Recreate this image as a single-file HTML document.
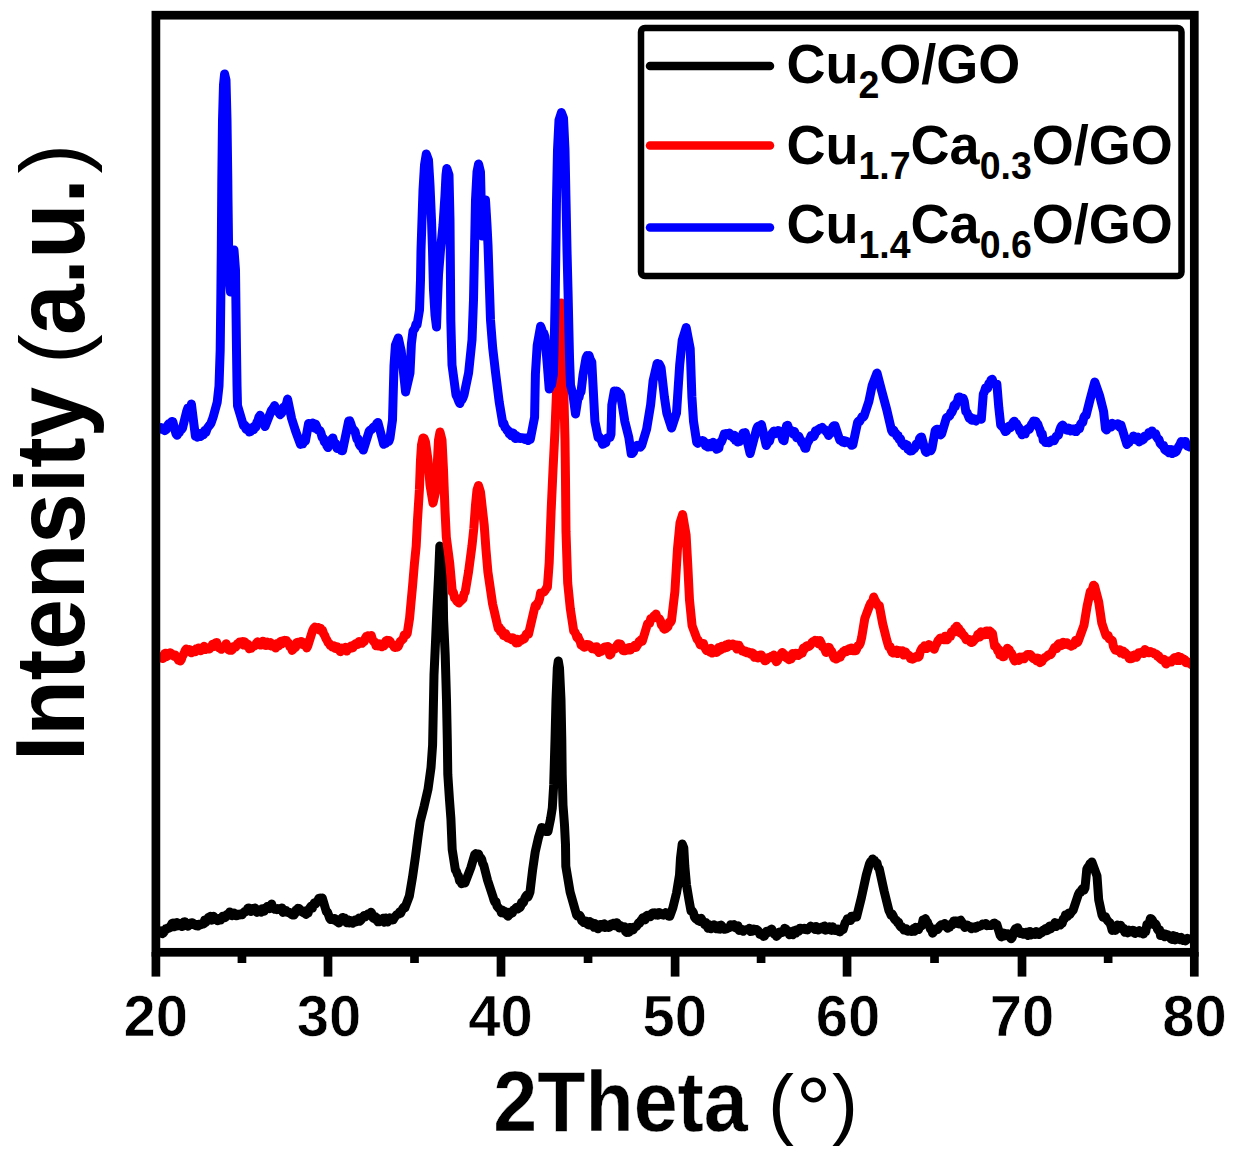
<!DOCTYPE html>
<html><head><meta charset="utf-8"><style>
html,body{margin:0;padding:0;background:#fff;}
body{width:1237px;height:1166px;overflow:hidden;}
svg{display:block;}
text{font-family:"Liberation Sans",sans-serif;font-weight:bold;fill:#000;}
</style></head><body>
<svg width="1237" height="1166" viewBox="0 0 1237 1166">
<rect width="1237" height="1166" fill="#fff"/>
<g fill="none" stroke-width="9" stroke-linejoin="round" stroke-linecap="round">
<polyline stroke="#000" points="160.0,933.0 161.2,930.7 162.3,933.7 163.5,932.8 164.7,931.0 165.8,928.9 166.8,929.1 167.8,928.0 168.9,928.1 169.9,927.8 171.0,925.5 172.0,923.5 173.0,923.0 174.0,926.8 175.0,924.8 176.0,926.3 177.0,922.5 178.0,924.5 179.0,924.7 180.0,925.7 181.0,923.2 182.0,926.5 183.0,926.2 184.0,921.9 185.0,921.8 186.0,924.2 187.0,923.9 188.1,926.2 189.2,923.7 190.2,923.2 191.3,924.4 192.4,922.7 193.5,923.8 194.6,925.1 195.6,925.6 196.7,924.5 197.8,926.0 198.9,924.3 200.1,923.9 201.2,924.6 202.4,923.4 203.5,924.0 204.7,920.1 205.9,922.3 207.2,919.3 208.4,917.4 209.4,918.2 210.5,916.2 211.5,920.2 212.5,919.7 213.5,916.3 214.6,917.5 215.6,919.5 216.6,919.6 217.6,920.8 218.7,918.5 219.7,919.0 220.7,920.0 221.7,918.6 222.7,916.2 223.8,916.9 224.8,917.7 225.8,916.9 226.8,914.7 227.8,914.0 228.8,914.5 229.8,911.9 230.9,913.0 231.9,915.8 232.9,914.0 233.9,913.0 234.9,914.9 235.9,915.7 237.0,915.7 238.0,914.3 239.0,915.0 240.1,914.2 241.2,913.9 242.2,914.7 243.3,912.9 244.4,911.7 245.5,911.7 246.6,911.1 247.7,908.4 248.8,907.9 249.8,910.5 250.9,911.4 252.0,908.5 253.0,909.3 254.0,908.6 255.0,907.9 256.0,909.8 257.0,912.4 258.0,911.7 259.0,910.9 260.0,911.0 261.1,912.2 262.1,908.7 263.2,909.6 264.2,911.2 265.3,908.9 266.4,907.8 267.4,906.4 268.5,907.2 269.5,908.7 270.6,906.0 271.7,904.0 272.7,908.1 273.8,908.6 274.8,909.3 275.9,908.9 276.9,909.6 278.0,908.5 279.0,909.0 280.0,909.6 281.0,909.4 282.0,908.0 283.0,912.4 284.0,911.0 285.0,911.7 286.0,910.4 287.0,912.2 288.0,912.5 289.0,912.3 290.0,912.7 291.0,914.0 292.0,914.8 293.0,915.1 294.0,915.0 295.0,913.5 296.0,910.1 297.0,909.8 298.0,908.3 299.0,908.5 300.0,909.5 301.0,911.5 302.0,911.8 303.0,912.4 304.0,913.1 305.0,911.0 306.0,914.4 307.0,913.4 308.1,913.0 309.2,908.9 310.2,907.3 311.3,906.0 312.4,908.3 313.5,904.6 314.5,902.7 315.6,903.9 316.7,902.0 317.8,900.5 318.9,898.3 320.1,898.0 321.2,898.9 322.3,898.0 326.4,911.7 327.5,912.2 328.5,914.8 329.6,918.0 330.6,919.6 331.7,918.9 332.7,918.8 333.8,920.1 334.8,918.5 335.9,920.8 336.9,921.5 338.0,920.9 339.0,923.0 340.2,919.3 341.3,921.2 342.5,917.4 343.6,918.4 344.7,917.9 345.8,920.7 346.8,922.7 347.9,919.8 349.0,923.0 350.2,920.4 351.4,920.8 352.7,923.3 353.9,922.0 354.9,919.9 355.9,922.0 357.0,921.3 358.0,920.2 359.0,918.1 360.0,921.2 361.1,919.9 362.1,918.0 363.1,917.4 364.1,915.5 365.1,917.0 366.1,915.2 367.1,915.5 368.1,913.8 369.1,914.7 370.1,913.5 371.1,912.2 372.1,914.1 373.1,918.1 374.1,918.4 375.1,916.5 376.1,919.9 377.1,918.0 378.1,921.8 379.1,921.7 380.1,921.3 381.2,920.7 382.3,919.7 383.3,918.3 384.4,922.2 385.5,917.9 386.6,921.5 387.7,921.9 388.7,919.8 389.8,917.7 390.9,919.0 392.0,920.1 393.1,919.9 394.2,918.0 395.3,916.4 396.4,915.1 397.5,914.2 398.6,914.3 399.6,911.9 400.7,913.1 401.7,910.9 402.7,908.7 403.8,907.2 404.8,908.1 409.4,895.8 412.5,877.3 415.6,855.7 418.0,837.2 420.2,821.7 424.1,806.3 428.0,789.3 431.0,767.7 432.6,745.0 434.0,675.0 435.6,640.0 436.8,612.0 438.6,575.0 439.8,546.0 440.9,548.3 442.0,549.0 443.0,580.0 443.6,620.0 445.2,655.0 446.5,700.0 447.3,740.0 447.8,774.5 449.5,800.0 450.9,818.6 452.2,849.5 455.4,870.0 456.4,871.3 457.5,874.6 458.5,876.1 459.6,881.1 460.6,881.6 461.7,883.8 462.8,879.9 463.9,881.1 465.0,882.9 470.9,867.5 474.7,854.6 476.0,853.6 477.3,856.5 478.6,854.0 479.6,857.6 480.6,857.6 481.7,859.2 482.7,863.6 483.7,865.0 487.6,880.3 492.7,895.8 493.8,899.6 494.9,902.1 495.9,901.5 497.0,906.2 498.1,907.4 499.2,908.6 500.3,909.4 501.4,912.8 502.5,910.1 503.6,913.3 504.7,911.2 505.8,912.5 506.9,915.0 508.0,916.2 509.1,912.2 510.2,914.1 511.3,912.6 512.4,913.0 513.5,910.0 514.6,909.9 515.6,908.3 516.6,907.2 517.6,909.1 518.6,907.0 519.6,907.8 520.6,906.6 521.6,902.2 522.6,903.3 523.6,902.2 524.7,898.6 525.7,896.6 526.8,895.0 527.9,897.1 528.9,895.0 530.0,891.9 532.6,870.0 535.2,852.0 538.4,837.9 541.6,827.6 542.7,829.8 543.7,828.1 544.8,830.1 545.9,831.5 546.9,830.2 548.0,831.4 550.6,818.6 552.3,808.0 553.7,785.0 555.0,740.0 556.0,700.0 557.3,668.0 558.3,661.0 559.5,668.0 561.0,700.0 561.8,740.0 562.2,775.0 563.0,805.0 564.5,825.0 565.5,845.0 565.8,866.2 570.1,892.0 576.6,915.0 577.6,916.1 578.6,915.2 579.7,915.3 580.7,917.0 581.7,920.8 582.7,920.0 583.7,922.5 584.8,921.0 585.8,921.0 586.8,922.8 587.8,924.6 588.8,925.1 589.9,921.6 590.9,925.1 591.9,922.7 592.9,923.2 593.9,927.3 595.0,923.6 596.0,925.0 597.0,926.6 598.0,928.8 599.1,926.0 600.1,924.4 601.2,924.5 602.2,924.7 603.2,927.0 604.3,923.8 605.3,927.5 606.4,924.8 607.4,925.3 608.5,927.5 609.5,927.2 610.6,924.2 611.7,924.0 612.8,925.0 613.8,923.2 614.9,925.8 616.0,922.9 617.0,922.7 618.1,925.0 619.2,928.0 620.3,925.3 621.3,927.4 622.4,927.3 623.5,927.3 624.6,926.8 625.6,931.5 626.7,932.4 627.8,930.8 628.9,932.4 630.0,927.6 631.0,927.5 632.1,928.8 633.2,929.9 634.3,927.1 635.3,927.2 636.4,926.4 637.5,925.0 638.6,922.8 639.7,923.1 640.7,920.9 641.8,919.5 642.9,917.7 644.0,917.5 645.0,919.9 646.1,916.2 647.2,915.4 648.3,915.9 649.4,915.6 650.4,916.7 651.5,913.8 652.6,913.1 653.7,913.0 654.7,912.7 655.8,914.9 656.9,913.0 658.0,915.2 659.0,912.6 660.1,913.0 661.2,914.3 662.3,914.7 663.3,915.1 664.4,913.6 665.5,912.8 666.6,914.2 667.6,913.6 668.7,916.2 669.8,916.2 672.8,908.0 676.5,893.0 679.5,875.0 680.5,858.0 682.2,844.0 683.8,848.0 684.8,866.0 686.5,885.0 689.0,900.0 691.0,911.0 692.2,910.8 693.4,912.8 694.5,917.3 695.7,918.6 696.8,917.9 697.9,920.5 699.0,919.4 700.0,921.4 701.1,918.3 702.2,920.2 703.4,921.6 704.6,924.5 705.8,922.4 707.0,925.9 708.0,928.2 709.0,924.5 710.0,927.5 711.0,928.6 712.1,927.9 713.1,925.6 714.1,924.7 715.1,926.8 716.1,928.8 717.1,925.9 718.1,928.9 719.2,925.4 720.2,929.2 721.2,925.1 722.2,926.5 723.2,927.5 724.3,929.3 725.4,928.6 726.4,928.9 727.5,928.4 728.6,927.8 729.7,927.3 730.7,924.7 731.8,925.8 732.9,925.9 733.9,924.6 735.0,927.7 736.0,927.8 737.0,926.2 738.0,925.7 739.1,930.4 740.1,930.0 741.1,929.1 742.1,929.5 743.2,931.3 744.2,930.0 745.2,929.9 746.3,929.7 747.3,929.6 748.3,929.3 749.4,928.3 750.4,931.4 751.5,930.4 752.5,931.3 753.5,928.9 754.6,930.4 755.6,929.5 756.6,929.6 757.7,930.3 758.7,931.6 759.9,934.4 761.2,933.5 762.4,934.7 763.6,936.4 764.6,936.0 765.6,933.3 766.6,931.3 767.7,932.9 768.7,931.8 769.7,931.6 770.7,929.7 771.7,929.1 772.9,931.8 774.1,933.9 775.3,933.3 776.5,936.4 777.5,935.4 778.5,934.3 779.5,932.0 780.5,931.9 781.6,931.6 782.6,932.3 783.6,931.3 784.6,928.3 785.8,928.8 787.0,932.3 788.3,931.0 789.5,934.8 790.5,932.2 791.6,933.7 792.6,934.8 793.6,930.8 794.6,933.1 795.7,933.1 796.7,929.8 797.7,931.0 798.7,931.2 799.8,928.3 800.8,928.3 801.9,929.2 803.0,929.2 804.1,928.5 805.2,929.6 806.4,929.7 807.5,929.9 808.6,927.9 809.7,927.5 810.8,926.1 811.9,926.7 812.9,926.7 814.0,928.5 815.1,929.6 816.2,926.4 817.2,929.6 818.3,930.0 819.4,929.1 820.4,928.2 821.4,928.8 822.4,926.9 823.5,929.4 824.5,925.9 825.5,930.2 826.5,929.2 827.5,927.5 828.5,928.3 829.6,926.7 830.6,930.0 831.6,930.4 832.7,926.7 833.7,929.9 834.8,930.4 835.8,929.7 836.8,930.1 837.9,929.0 838.9,931.5 839.9,931.9 841.0,929.3 842.0,930.0 843.1,929.6 844.2,925.9 845.2,922.7 846.3,921.6 847.4,918.7 848.5,918.6 849.5,920.4 850.5,920.4 851.5,916.2 852.5,918.3 853.6,917.2 854.6,915.6 855.6,916.2 856.6,917.0 861.4,897.6 866.3,875.0 869.5,863.7 870.5,861.7 871.5,863.3 872.6,858.9 873.6,860.5 874.7,860.6 875.8,863.4 877.0,863.0 878.1,867.5 879.2,868.5 884.1,891.0 888.9,910.5 890.0,912.6 891.1,915.3 892.1,913.9 893.2,915.9 894.3,918.8 895.4,920.2 896.5,920.2 897.6,922.8 898.6,922.3 899.7,925.4 900.8,927.0 901.9,926.7 903.0,928.7 904.1,930.1 905.1,928.6 906.2,928.8 907.3,931.1 908.4,931.3 909.4,930.8 910.5,930.5 911.6,931.6 912.6,930.0 913.6,928.5 914.6,931.2 915.6,927.3 916.6,929.7 917.6,928.1 918.6,929.5 919.6,926.7 920.7,926.3 921.9,925.7 923.0,920.1 924.2,920.2 925.3,918.6 926.3,921.0 927.4,921.9 928.4,924.9 929.5,926.3 930.5,929.2 931.6,928.7 932.6,933.2 933.6,931.9 934.6,930.9 935.6,929.2 936.7,928.7 937.7,929.5 938.7,928.0 939.7,926.1 940.7,925.1 941.7,926.0 942.7,924.9 943.7,924.3 944.7,923.5 945.7,925.0 946.7,926.8 947.7,928.3 948.7,926.7 949.9,926.9 951.2,923.9 952.4,924.8 953.6,921.0 954.6,920.9 955.6,922.8 956.6,920.9 957.7,922.6 958.7,923.9 959.7,920.7 960.7,920.2 961.7,921.9 962.8,924.3 963.8,925.8 964.9,927.5 966.0,926.7 967.1,924.9 968.1,926.7 969.2,926.8 970.3,926.6 971.4,928.7 972.4,927.3 973.5,927.9 974.6,926.7 975.6,928.3 976.7,927.3 977.7,925.8 978.7,926.7 979.7,925.9 980.8,925.7 981.8,925.3 982.8,923.9 983.8,924.7 984.9,924.4 985.9,923.5 987.0,925.7 988.1,925.0 989.2,925.4 990.3,925.1 991.3,925.5 992.4,924.5 993.5,923.4 994.6,923.1 995.7,925.3 996.8,924.4 1000.2,935.4 1001.3,936.9 1002.5,935.1 1003.6,932.9 1004.7,935.9 1005.9,934.0 1007.0,933.8 1008.0,934.9 1009.1,934.1 1010.2,937.6 1011.2,938.8 1012.3,937.4 1013.4,933.4 1014.4,930.5 1015.5,928.7 1016.6,930.1 1017.6,927.7 1018.7,930.6 1019.8,933.4 1020.8,932.8 1021.9,932.1 1022.9,934.1 1024.0,933.8 1025.0,934.3 1026.0,932.3 1027.0,932.2 1028.0,935.4 1029.0,932.4 1030.0,931.4 1031.0,935.0 1032.0,933.5 1033.0,932.7 1034.0,933.3 1035.0,934.4 1036.0,931.6 1037.0,933.8 1038.0,934.1 1039.0,934.5 1040.0,931.8 1041.0,932.9 1042.1,932.7 1043.1,930.2 1044.2,931.1 1045.3,928.6 1046.4,930.8 1047.4,930.5 1048.5,927.2 1049.6,926.0 1050.7,928.9 1051.7,927.0 1052.8,925.3 1053.9,926.7 1054.9,922.6 1056.0,926.6 1057.0,925.0 1058.1,923.4 1059.2,923.7 1060.2,925.1 1061.3,923.6 1062.3,923.2 1063.3,918.7 1064.4,919.0 1065.4,915.1 1066.4,915.0 1067.5,916.4 1068.7,913.1 1069.8,914.5 1070.9,912.8 1072.1,911.3 1073.2,910.0 1078.3,894.7 1079.4,892.4 1080.5,892.6 1081.7,889.6 1082.8,888.5 1083.9,890.2 1085.0,888.0 1086.8,869.2 1087.8,867.1 1088.8,867.5 1089.9,863.6 1090.9,864.5 1091.9,862.0 1097.0,876.0 1098.7,899.8 1102.0,915.0 1103.1,917.2 1104.3,916.4 1105.4,916.6 1106.5,919.1 1107.7,920.7 1108.8,921.9 1109.9,922.8 1111.1,926.1 1112.2,930.4 1113.3,927.6 1114.3,929.6 1115.4,930.4 1116.5,926.5 1117.5,925.0 1118.6,927.6 1119.6,927.4 1120.7,925.3 1121.7,928.9 1122.7,928.5 1123.8,928.6 1124.8,932.3 1125.8,932.0 1126.8,930.2 1127.8,932.9 1128.9,930.1 1129.9,931.5 1130.9,932.0 1131.9,931.4 1132.9,930.4 1134.0,930.7 1135.0,933.5 1136.0,932.0 1137.1,931.8 1138.1,932.4 1139.2,930.6 1140.2,933.0 1141.3,931.2 1142.4,932.4 1143.4,934.0 1144.5,932.0 1145.7,931.7 1146.9,924.4 1148.0,925.3 1149.2,922.9 1150.4,918.5 1151.4,918.8 1152.4,920.2 1153.4,922.3 1154.4,925.0 1155.4,923.7 1156.4,925.3 1157.4,929.1 1158.4,930.6 1159.5,929.7 1160.5,935.4 1161.5,935.4 1162.6,933.3 1163.6,934.1 1164.7,936.8 1165.8,934.1 1166.8,935.8 1167.9,934.8 1168.9,936.6 1170.0,937.0 1171.0,938.9 1172.0,939.5 1173.1,935.6 1174.1,936.0 1175.1,940.0 1176.1,936.4 1177.1,937.8 1178.2,937.3 1179.2,937.5 1180.2,939.7 1181.2,937.3 1182.3,940.1 1183.3,940.5 1184.4,940.1 1185.5,940.8 1186.5,939.8 1187.5,938.4 1188.6,938.8"/>
<polyline stroke="#f00" points="161.5,656.6 162.6,658.4 163.7,658.0 164.7,653.4 165.8,653.2 166.9,656.4 168.0,655.6 169.0,654.9 170.1,652.8 171.2,653.4 172.2,654.7 173.2,655.5 174.2,656.2 175.2,655.0 176.3,657.1 177.3,657.7 178.3,660.1 179.3,659.8 180.3,661.0 181.3,659.5 182.3,656.4 183.3,654.7 184.3,652.6 185.3,650.3 186.3,649.0 187.3,650.1 188.3,650.1 189.3,649.6 190.3,650.1 191.4,652.8 192.4,651.2 193.4,651.6 194.4,650.2 195.4,651.7 196.5,648.7 197.6,649.5 198.7,648.0 199.7,649.1 200.8,650.8 201.9,647.7 203.0,648.5 204.1,646.2 205.2,649.6 206.2,649.1 207.3,648.8 208.4,647.7 209.4,649.0 210.5,647.6 211.5,647.0 212.5,644.2 213.5,646.5 214.6,645.7 215.6,642.8 216.7,642.5 217.9,646.6 219.0,647.7 220.2,647.8 221.3,649.3 222.5,648.0 223.7,646.5 224.9,647.1 226.1,643.7 227.2,645.8 228.3,649.6 229.4,650.1 230.4,648.6 231.4,650.3 232.4,649.6 233.4,646.7 234.5,646.4 235.5,647.3 236.5,645.6 237.5,643.7 238.5,643.5 239.5,642.1 240.5,642.5 241.5,644.2 242.5,641.5 243.5,645.0 244.5,641.8 245.5,642.8 246.7,646.0 247.9,644.3 249.2,648.7 250.4,647.7 251.4,648.1 252.4,646.5 253.4,645.9 254.4,646.0 255.5,645.1 256.5,643.1 257.5,642.0 258.5,642.8 259.6,643.0 260.7,645.1 261.7,643.7 262.8,641.2 263.9,644.8 265.0,644.5 266.0,645.5 267.1,642.1 268.2,643.7 269.3,645.4 270.3,642.6 271.4,646.0 272.5,644.7 273.5,645.1 274.6,646.9 275.7,648.0 276.8,643.6 277.8,644.8 278.9,645.7 280.0,642.1 281.1,641.2 282.1,643.7 283.2,640.8 284.3,640.4 285.4,642.6 286.5,640.4 287.6,643.1 288.8,643.3 289.9,646.8 291.0,645.1 292.1,650.4 293.2,649.3 294.3,645.6 295.5,647.5 296.6,642.6 297.8,642.3 298.9,642.0 300.0,644.0 301.1,641.4 302.2,642.0 303.4,644.9 304.5,644.0 305.6,642.8 306.7,647.9 307.8,646.0 312.6,630.7 313.7,628.4 314.9,627.2 316.0,628.0 317.2,628.7 318.3,627.5 319.4,630.0 320.5,628.3 321.6,630.8 322.6,630.6 323.7,634.0 324.8,635.6 325.9,638.5 326.9,640.0 328.0,642.4 329.1,643.3 330.1,645.4 331.2,645.3 332.2,646.9 333.2,646.4 334.2,645.8 335.2,648.5 336.3,647.4 337.3,647.0 338.3,649.2 339.3,650.1 340.4,651.7 341.4,648.0 342.5,650.0 343.5,648.9 344.6,649.3 345.6,647.3 346.7,651.1 347.8,647.5 348.8,649.0 349.9,648.0 350.9,645.9 352.0,648.0 353.0,647.7 354.0,645.1 355.0,644.1 356.0,643.4 357.0,643.4 358.0,644.4 359.0,641.6 360.1,643.3 361.1,641.9 362.1,643.3 363.1,642.2 364.2,641.6 365.2,638.4 366.2,636.6 367.2,637.1 368.2,635.7 369.2,636.8 370.2,636.5 371.2,635.4 372.4,639.4 373.6,641.5 374.8,641.9 376.0,645.6 377.0,645.4 378.0,646.1 379.0,643.8 380.0,644.2 381.0,646.2 382.0,646.8 383.0,643.9 384.0,645.9 385.0,642.6 386.0,640.9 387.0,640.3 388.0,640.8 389.0,640.5 390.1,641.3 391.1,643.7 392.1,644.4 393.1,644.6 394.2,647.1 395.2,647.4 396.2,644.9 397.2,647.2 398.2,646.3 399.2,644.1 400.2,641.6 401.2,640.8 402.2,639.7 403.2,638.8 404.2,635.0 405.2,635.6 406.2,634.9 407.2,633.6 409.6,618.0 410.8,604.8 412.6,585.6 414.4,564.0 416.2,546.0 417.5,520.0 419.4,490.0 420.5,460.0 421.5,445.0 423.0,438.0 424.2,438.5 425.5,442.0 428.0,460.0 430.0,485.0 433.0,503.0 436.0,490.0 437.5,460.0 438.5,440.0 440.0,432.0 442.0,440.0 443.5,470.0 445.0,510.0 446.3,537.0 449.7,563.0 452.3,592.0 453.4,592.3 454.5,598.0 455.5,598.1 456.6,601.0 457.7,601.1 458.8,603.0 459.8,601.5 460.9,601.0 462.0,597.7 463.0,598.8 464.1,593.6 465.2,592.0 468.6,571.5 472.0,545.7 473.8,528.6 475.5,505.0 477.0,490.0 478.5,485.5 480.5,492.0 482.5,510.0 484.2,525.0 486.0,550.0 487.9,572.0 492.6,604.0 498.3,628.7 499.3,627.4 500.4,631.7 501.4,629.9 502.5,631.9 503.5,635.5 504.6,635.7 505.6,633.6 506.7,636.7 507.7,638.0 508.7,637.9 509.8,638.6 510.8,637.7 511.8,639.8 512.8,637.7 513.9,639.1 514.9,639.9 515.9,642.9 516.9,639.2 518.0,642.8 519.0,641.9 520.1,639.6 521.1,640.6 522.2,638.8 523.2,638.3 524.3,638.9 525.3,636.3 526.4,634.2 527.4,633.3 528.5,634.3 534.2,609.8 535.3,605.4 536.3,606.6 537.4,603.2 538.5,602.3 539.6,598.6 540.6,592.9 541.7,592.8 542.8,592.4 544.0,591.9 545.1,590.5 546.3,588.3 547.4,587.2 549.2,562.6 551.1,511.7 553.0,470.0 555.0,430.0 557.0,380.0 559.0,340.0 561.0,303.0 563.0,340.0 564.0,400.0 565.0,440.0 565.5,480.0 566.0,531.5 567.7,583.0 570.3,608.6 573.7,631.0 574.8,632.0 575.9,634.2 576.9,637.6 578.0,636.7 579.1,639.7 580.1,641.2 581.2,645.2 582.3,644.7 583.3,646.4 584.3,647.2 585.3,646.9 586.3,644.6 587.3,644.5 588.3,645.9 589.3,645.0 590.3,646.0 591.3,647.4 592.3,648.8 593.3,647.4 594.3,647.2 595.4,649.4 596.6,646.7 597.8,648.7 598.9,652.5 600.1,649.1 601.2,651.5 602.3,650.3 603.5,647.7 604.6,647.0 605.7,650.0 606.9,649.6 608.0,646.4 609.7,655.0 610.8,654.3 611.9,650.4 612.9,649.8 614.0,648.1 615.1,648.8 616.1,647.5 617.2,644.9 618.3,643.8 619.4,645.1 620.6,644.2 621.8,647.4 622.9,650.6 624.1,650.8 625.2,650.7 626.3,648.2 627.4,649.7 628.4,650.1 629.5,647.4 630.6,649.9 631.6,647.3 632.7,647.9 633.8,646.4 634.9,645.3 635.9,647.5 637.0,645.8 638.0,644.2 639.1,641.4 640.2,642.2 641.2,639.6 642.3,641.2 647.5,624.0 648.6,623.2 649.6,623.3 650.7,618.7 651.8,619.0 652.8,617.7 653.9,616.0 654.9,616.3 656.0,614.0 657.2,617.8 658.3,618.3 659.5,619.0 660.5,620.9 661.5,625.3 662.6,624.3 663.6,628.3 664.6,629.2 665.8,628.5 666.9,627.6 668.0,626.6 669.2,622.1 670.4,622.6 671.5,620.6 674.9,591.5 677.5,548.6 680.0,522.9 682.6,514.5 686.1,534.9 687.8,565.8 689.5,600.0 692.1,625.8 697.2,639.5 698.2,640.1 699.3,642.4 700.3,644.9 701.4,644.3 702.4,644.7 703.4,643.4 704.4,646.6 705.5,648.8 706.5,650.6 707.5,649.8 708.6,650.8 709.8,651.9 711.0,648.3 712.1,653.1 713.2,652.3 714.4,651.5 715.5,651.5 716.5,652.4 717.6,651.7 718.7,647.4 719.8,650.3 720.9,649.6 721.9,646.3 723.0,647.2 724.1,648.1 725.1,647.0 726.2,644.8 727.2,647.4 728.3,643.9 729.4,645.9 730.4,644.7 731.5,644.7 732.6,643.9 733.6,645.9 734.7,645.8 735.8,645.0 736.9,649.1 738.0,645.2 739.0,645.3 740.1,648.1 741.2,648.7 742.2,651.0 743.3,650.8 744.4,651.9 745.5,651.2 746.6,652.8 747.6,651.8 748.7,653.2 749.8,652.7 750.9,654.4 752.0,652.7 753.2,653.5 754.3,657.3 755.4,655.1 756.5,657.3 757.7,657.9 758.9,657.5 760.1,655.0 761.3,654.9 762.5,657.1 763.8,659.1 765.0,660.8 766.2,660.5 767.3,658.1 768.3,657.5 769.4,657.9 770.5,657.7 771.5,656.2 772.6,656.5 773.8,655.1 775.0,658.8 776.3,661.7 777.5,660.5 778.7,657.9 779.9,656.7 781.1,653.9 782.3,652.5 783.4,653.4 784.5,656.7 785.5,655.2 786.6,658.0 787.7,658.4 788.8,659.7 790.0,658.5 791.2,658.9 792.5,653.5 793.7,654.1 794.8,655.7 795.8,653.2 796.9,654.8 798.0,655.5 799.0,654.8 800.1,654.1 801.2,652.2 802.3,653.0 803.4,648.1 804.4,649.3 805.5,646.8 806.6,646.0 807.7,645.6 808.8,646.6 809.8,645.8 810.9,644.4 812.0,642.4 813.1,641.5 814.1,642.0 815.2,640.4 816.3,641.1 817.5,640.5 818.7,644.1 819.9,640.5 821.1,642.8 822.3,646.8 823.5,647.1 824.8,649.4 826.0,652.5 827.1,650.0 828.1,647.2 829.2,647.6 830.4,650.0 831.7,651.2 832.9,655.2 834.1,658.1 835.1,656.6 836.1,659.0 837.1,658.6 838.2,655.8 839.2,656.3 840.2,657.2 841.2,653.8 842.2,654.1 843.3,651.4 844.3,651.2 845.4,650.2 846.5,651.7 847.5,649.4 848.6,649.2 849.6,648.5 850.6,650.6 851.6,647.9 852.7,650.7 853.7,649.8 854.7,648.7 855.7,650.8 856.7,649.2 857.9,645.6 859.2,645.4 860.4,642.8 861.6,637.9 864.8,618.5 869.6,605.6 870.6,603.5 871.7,602.2 872.7,601.3 873.7,597.0 874.8,599.9 875.9,601.6 877.1,603.9 878.2,606.0 879.3,605.6 882.6,623.4 886.6,639.5 887.7,643.3 888.9,647.0 890.0,646.3 891.2,650.5 892.3,652.5 893.3,653.1 894.3,651.4 895.3,651.4 896.3,650.1 897.4,653.6 898.4,650.5 899.4,650.9 900.4,650.8 901.5,653.4 902.5,650.7 903.6,655.1 904.7,651.7 905.7,652.0 906.8,654.9 908.0,654.8 909.2,655.4 910.5,658.7 911.7,657.3 912.8,659.1 913.8,658.6 914.9,657.0 916.0,657.5 917.0,656.0 918.1,657.3 919.2,656.2 920.3,651.4 921.4,649.2 922.5,647.6 923.5,648.8 924.6,645.9 925.7,646.2 926.7,648.6 927.8,646.0 928.9,644.6 930.0,645.3 931.0,646.2 932.1,646.9 933.2,648.3 934.3,649.2 935.5,645.6 936.8,643.6 938.0,640.7 939.2,639.5 940.2,638.1 941.2,639.7 942.3,638.1 943.3,638.1 944.3,639.8 945.3,636.3 946.4,636.5 947.4,639.7 948.4,637.8 949.4,636.0 950.5,636.2 951.5,631.7 952.6,632.1 953.6,632.2 954.7,628.3 955.8,628.9 956.8,626.2 957.8,628.2 958.9,628.6 960.0,632.9 961.0,631.5 962.0,633.3 963.1,635.5 964.2,635.5 965.2,637.8 966.2,639.8 967.3,639.0 968.4,639.4 969.4,639.5 970.5,642.1 971.5,642.5 972.6,642.1 973.6,640.9 974.6,639.6 975.7,638.4 976.8,637.9 977.8,634.5 978.9,633.8 979.9,637.0 981.0,631.8 982.0,632.5 983.0,634.7 984.1,633.6 985.1,634.8 986.2,630.9 987.2,632.1 988.3,634.6 989.4,630.9 990.4,631.5 991.5,632.8 992.5,633.6 994.6,646.2 995.6,645.9 996.7,647.1 997.8,651.0 998.8,649.5 999.9,655.0 1000.9,654.8 1002.0,653.2 1003.0,656.7 1004.1,656.5 1005.1,651.3 1006.2,650.3 1007.3,648.3 1008.3,650.3 1009.4,650.1 1010.5,653.6 1011.5,653.2 1012.5,655.6 1013.6,658.8 1014.6,660.8 1015.7,660.3 1016.8,658.9 1017.8,659.7 1018.8,660.6 1019.9,657.1 1020.9,658.8 1022.0,657.0 1023.0,657.0 1024.1,658.8 1025.1,656.2 1026.2,656.0 1027.2,654.6 1028.3,654.6 1029.4,654.7 1030.4,654.6 1031.5,655.9 1032.5,657.8 1033.6,658.7 1034.6,658.6 1035.7,658.3 1036.7,661.0 1037.8,658.1 1038.8,658.5 1039.9,662.7 1040.9,661.9 1042.0,661.6 1043.0,658.7 1044.0,658.6 1045.1,657.3 1046.2,657.0 1047.2,656.1 1048.2,655.0 1049.3,654.6 1050.3,654.8 1051.4,653.7 1052.5,651.3 1053.5,649.7 1054.5,647.6 1055.6,648.7 1056.7,648.6 1057.7,645.1 1058.8,643.7 1059.8,645.8 1060.8,645.7 1061.9,645.4 1063.0,642.2 1064.0,644.6 1065.0,642.8 1066.1,644.1 1067.1,642.8 1068.2,644.8 1069.2,645.3 1070.3,645.4 1071.4,646.1 1072.4,645.1 1073.5,645.2 1074.5,643.2 1075.6,640.3 1076.6,642.9 1077.7,642.3 1078.7,639.9 1084.0,625.2 1087.1,606.2 1090.3,591.5 1091.3,591.7 1092.4,589.2 1093.5,585.2 1094.5,586.0 1098.7,602.0 1101.8,623.1 1106.0,635.7 1107.1,635.1 1108.1,635.5 1109.2,638.9 1110.2,639.3 1111.3,639.9 1112.3,640.5 1113.4,646.3 1114.4,648.5 1115.5,650.2 1116.5,650.4 1117.6,650.5 1118.6,649.9 1119.7,649.8 1120.8,653.0 1121.8,652.7 1122.9,650.9 1123.9,654.2 1125.0,652.5 1126.0,654.1 1127.1,654.6 1128.1,655.9 1129.2,658.6 1130.2,658.8 1131.3,658.0 1132.3,658.4 1133.4,655.2 1134.4,657.4 1135.5,654.7 1136.5,657.2 1137.6,654.6 1138.6,652.7 1139.7,652.7 1140.8,653.2 1141.8,652.0 1142.8,652.1 1143.9,653.5 1145.0,649.5 1146.0,650.4 1147.0,652.1 1148.1,652.0 1149.2,652.8 1150.2,651.5 1151.2,651.9 1152.3,652.5 1153.3,652.5 1154.4,653.9 1155.5,653.7 1156.5,654.2 1157.5,656.3 1158.6,655.7 1159.7,657.9 1160.7,658.8 1161.8,659.9 1162.8,659.3 1163.8,659.3 1164.9,662.1 1166.0,664.0 1167.0,663.0 1168.0,661.0 1169.1,662.2 1170.2,661.7 1171.2,662.0 1172.2,660.4 1173.3,658.8 1174.3,657.9 1175.4,657.4 1176.5,660.4 1177.5,657.8 1178.5,656.5 1179.6,660.6 1180.7,657.3 1181.7,658.8 1182.8,658.6 1183.8,659.3 1184.8,659.7 1185.9,662.7 1187.0,661.5 1188.0,663.0 1189.0,662.7 1190.1,662.6 1191.2,664.6 1192.2,663.0"/>
<polyline stroke="#00f" points="159.9,428.2 161.1,427.5 162.3,429.6 163.5,429.4 164.7,430.6 165.7,430.0 166.7,429.0 167.7,425.2 168.8,423.8 169.8,426.7 170.8,422.8 171.8,421.5 172.8,421.7 176.0,433.9 177.1,435.3 178.2,431.9 179.2,432.7 180.3,430.0 181.4,429.8 182.5,428.2 186.5,412.0 187.7,408.3 188.9,408.6 190.2,407.8 191.4,404.0 193.8,423.4 195.4,436.3 196.4,436.2 197.4,437.1 198.4,436.5 199.4,433.4 200.5,436.5 201.5,435.5 202.5,433.9 203.5,434.7 204.7,430.4 205.9,432.4 207.2,428.5 208.4,426.6 209.6,425.2 210.8,423.6 212.0,420.4 213.2,416.9 217.2,402.3 219.0,386.0 220.2,350.0 220.8,300.0 221.3,250.0 221.8,180.0 222.5,120.0 223.5,85.0 224.6,74.0 226.0,80.0 227.0,120.0 227.8,180.0 228.0,200.0 228.5,240.0 229.0,275.0 230.5,292.0 232.5,270.0 234.0,250.0 235.5,270.0 236.0,310.0 236.5,350.0 237.0,385.0 237.5,405.6 242.3,421.7 243.5,425.7 244.8,425.2 246.0,429.2 247.2,429.8 248.3,429.5 249.3,431.9 250.4,431.6 251.5,427.9 252.5,428.1 253.6,429.8 254.7,426.0 255.8,427.2 256.9,422.2 257.9,420.7 259.0,416.8 260.1,415.3 261.3,418.2 262.6,420.4 263.8,423.1 265.0,426.6 271.4,410.4 272.5,409.2 273.5,407.6 274.6,405.6 275.7,408.9 276.8,409.2 277.9,411.7 278.9,412.7 280.0,414.7 281.1,413.7 282.2,412.1 283.3,407.2 284.4,408.1 285.4,406.2 286.5,403.5 287.6,399.1 291.6,418.5 295.7,431.4 300.5,444.4 301.7,443.9 302.9,443.8 304.2,440.5 305.4,441.1 308.6,423.4 309.6,425.4 310.6,424.6 311.6,423.6 312.6,422.9 313.7,427.1 314.7,428.2 315.7,424.2 316.7,426.6 317.8,429.9 318.9,429.9 319.9,430.6 321.0,433.1 322.1,437.3 323.2,437.9 324.4,442.1 325.6,440.6 326.8,445.7 328.0,447.6 329.2,443.0 330.4,443.8 331.6,439.5 332.8,437.9 333.8,441.7 334.9,444.2 335.9,444.0 337.0,448.4 338.0,448.0 339.1,447.8 340.2,447.4 341.4,450.6 342.5,450.8 348.7,421.0 349.7,420.8 350.8,423.7 351.8,426.8 352.9,429.9 353.9,429.8 355.0,431.3 356.0,435.6 357.0,439.4 358.1,438.8 359.1,444.0 360.2,445.8 361.2,445.4 362.3,447.8 363.3,450.1 369.2,431.2 370.3,430.2 371.4,429.7 372.5,428.4 373.5,427.1 374.6,426.3 375.7,426.7 376.8,423.5 377.9,422.4 383.7,444.3 384.8,442.9 385.8,443.3 386.9,439.9 387.9,439.1 388.9,441.3 390.0,438.0 392.5,420.0 394.0,365.6 395.4,345.2 398.3,337.9 401.2,351.0 405.6,392.0 410.0,372.9 411.4,343.7 413.0,331.0 414.0,329.6 415.0,328.2 416.0,324.2 417.0,325.0 419.5,310.0 420.5,280.0 421.0,250.0 422.0,220.0 423.0,190.0 424.5,165.0 426.3,154.0 428.5,160.0 430.0,185.0 431.5,220.0 432.5,250.0 433.5,290.0 435.0,315.0 436.5,327.0 437.5,300.0 438.5,275.0 440.5,250.0 443.0,225.0 445.0,195.0 446.0,175.0 446.8,168.5 449.0,175.0 450.0,220.0 450.4,270.0 450.8,320.0 452.0,365.0 456.0,395.0 457.3,397.4 458.6,401.1 459.9,403.5 460.9,399.1 461.9,399.8 463.0,397.8 464.0,395.0 468.6,372.9 472.0,340.0 473.5,300.0 474.5,250.0 475.5,200.0 477.0,172.0 478.6,164.0 480.5,172.0 481.5,215.0 482.0,236.0 483.5,212.0 485.5,200.0 487.0,225.0 488.0,245.0 489.5,290.0 490.5,320.0 492.7,348.0 495.6,372.9 499.2,402.0 502.9,424.0 503.9,423.3 505.0,427.5 506.0,428.2 507.1,430.6 508.1,430.5 509.2,433.7 510.2,434.1 511.2,435.7 512.2,432.7 513.3,433.3 514.3,436.7 515.3,438.5 516.3,435.5 517.3,437.0 518.4,438.1 519.4,437.2 520.4,438.5 521.5,438.0 522.6,437.8 523.7,438.2 524.8,439.4 525.9,438.1 527.0,438.6 528.1,440.6 529.2,437.1 530.3,439.5 534.6,417.2 535.4,374.3 537.2,345.2 540.6,326.3 541.7,329.2 542.8,332.6 543.8,333.1 544.9,336.6 547.4,365.8 549.2,389.0 550.4,385.7 551.5,385.0 553.4,374.3 554.5,330.0 555.2,297.0 556.0,240.0 556.5,200.0 557.5,150.0 559.0,120.0 561.4,112.5 563.5,118.0 565.0,150.0 566.0,200.0 567.0,250.0 568.0,290.0 569.5,357.0 570.5,385.0 573.0,395.0 575.5,414.0 578.0,398.0 579.0,397.5 580.0,392.7 581.0,392.0 583.0,375.0 586.0,358.0 587.0,355.7 588.0,356.0 589.0,355.5 590.4,359.7 591.8,362.0 593.0,385.0 594.9,421.3 598.1,437.4 599.2,436.8 600.3,439.1 601.5,440.5 602.6,444.2 603.7,443.9 604.7,442.2 605.8,442.8 606.8,438.2 607.9,437.6 608.9,437.7 610.0,437.4 611.0,434.2 611.8,405.0 614.3,391.0 615.4,391.5 616.4,391.1 617.5,391.4 618.6,394.1 619.6,393.2 620.7,395.4 624.8,421.3 628.8,437.4 631.2,453.6 632.3,453.5 633.5,452.0 634.6,447.2 635.8,446.1 636.9,445.5 638.1,447.0 639.3,446.2 640.5,447.0 641.7,445.5 646.6,429.3 650.6,405.0 653.1,380.8 657.1,363.5 658.1,363.9 659.1,363.9 660.1,365.8 661.1,367.9 664.4,397.0 666.8,413.2 671.6,428.0 676.5,413.2 679.7,364.7 682.2,340.4 686.2,327.5 690.2,348.5 691.9,397.0 693.5,421.3 696.7,442.3 697.8,443.4 698.9,440.7 700.0,440.8 701.0,440.8 702.1,440.6 703.2,440.7 704.4,441.9 705.6,445.9 706.8,443.8 708.0,447.1 709.2,443.5 710.5,446.8 711.7,445.3 712.9,442.3 714.1,446.2 715.3,445.2 716.5,449.3 717.7,448.7 718.8,448.3 719.9,442.5 721.0,442.6 722.0,440.6 723.1,437.4 724.2,434.2 725.2,434.5 726.2,433.6 727.2,434.0 728.2,433.7 729.3,433.1 730.3,435.8 731.3,434.6 732.3,435.8 733.4,438.1 734.4,435.2 735.5,440.2 736.6,440.0 737.6,441.9 738.7,440.7 739.8,441.3 740.9,439.9 742.0,437.0 743.0,433.0 744.1,435.1 745.2,432.6 750.1,453.6 756.5,429.3 757.7,426.5 759.0,425.9 760.2,426.5 761.4,424.5 766.2,445.5 767.3,443.5 768.4,440.8 769.5,441.2 770.5,437.4 771.6,434.0 772.7,432.6 773.8,431.1 774.9,433.8 776.0,431.7 777.0,432.9 778.1,430.6 779.2,431.0 780.4,432.0 781.6,436.0 782.8,439.8 784.0,440.7 786.5,425.7 787.7,425.3 788.9,429.5 790.1,431.3 791.3,430.5 792.4,433.1 793.5,434.2 794.5,431.4 795.6,435.5 796.7,437.7 797.8,437.0 798.8,436.3 799.8,438.7 800.8,440.1 801.8,442.8 802.9,443.7 803.9,445.3 804.9,448.2 805.9,448.3 807.0,443.8 808.0,441.9 809.1,440.1 810.2,437.9 811.2,435.5 812.3,435.4 813.4,436.8 814.5,435.3 815.5,430.7 816.6,431.8 817.7,430.0 818.8,429.1 819.8,428.4 820.9,428.9 822.0,427.3 823.1,429.1 824.2,429.3 825.2,429.9 826.3,431.9 827.4,432.2 828.5,435.4 829.6,434.0 830.7,433.2 831.8,430.0 832.8,426.9 833.9,425.8 835.0,425.7 839.8,440.2 840.8,439.8 841.8,441.1 842.8,442.2 843.8,440.5 844.9,442.7 845.9,442.1 846.9,441.4 847.9,441.9 849.1,442.1 850.3,443.5 851.6,445.3 852.8,445.1 857.6,422.5 858.7,421.0 859.8,421.3 860.9,419.1 861.9,416.9 863.0,417.3 864.1,416.0 868.9,401.4 872.2,385.3 877.0,373.0 881.9,391.7 886.7,409.5 891.6,430.5 892.7,432.3 893.7,430.1 894.8,432.6 895.9,433.4 896.9,436.4 898.0,435.4 899.2,439.5 900.5,438.8 901.7,443.4 902.9,443.5 903.9,445.7 904.9,444.0 905.9,445.8 907.0,444.9 908.0,449.1 909.0,449.2 910.0,451.0 911.0,450.0 912.1,450.6 913.1,449.2 914.2,448.7 915.3,447.0 916.3,444.0 917.4,445.1 918.4,443.5 919.5,438.7 920.5,437.3 921.5,437.0 925.5,451.6 926.6,452.4 927.7,448.3 928.8,448.0 929.8,447.5 930.9,450.7 932.0,448.3 935.2,430.5 936.3,429.5 937.4,429.3 938.5,433.8 939.5,430.9 940.6,434.9 941.7,433.8 946.5,417.6 947.6,417.1 948.7,416.5 949.8,415.7 950.8,412.6 951.9,412.3 953.0,409.5 954.1,405.2 955.2,406.6 956.2,403.3 957.3,402.2 958.4,397.2 959.5,397.0 960.7,399.3 961.9,401.3 963.1,398.2 964.3,401.4 965.8,411.5 967.0,412.4 968.1,415.3 969.3,418.3 970.4,417.2 971.6,420.2 972.7,418.6 973.8,418.8 974.8,420.5 975.9,421.0 977.0,419.2 978.1,419.0 979.1,419.0 980.2,418.7 981.3,419.3 983.3,394.0 984.4,391.6 985.5,388.0 986.6,388.0 987.7,388.3 988.8,383.6 989.9,383.2 991.0,380.0 992.2,379.2 993.4,382.6 994.5,383.8 995.7,384.3 996.9,384.3 998.8,407.6 1000.7,425.1 1001.9,426.3 1003.1,427.3 1004.2,429.3 1005.4,431.6 1006.6,430.9 1007.7,427.8 1008.8,426.2 1009.9,427.9 1011.0,427.4 1012.1,424.1 1013.2,422.3 1014.3,421.2 1015.4,424.2 1016.5,423.6 1017.6,425.9 1018.8,427.5 1019.9,431.3 1021.0,432.0 1022.1,434.8 1023.1,432.5 1024.2,433.6 1025.2,433.8 1026.3,429.6 1027.3,430.6 1028.4,428.1 1029.4,429.2 1030.5,426.8 1031.5,424.3 1032.6,423.0 1033.6,421.0 1034.7,422.1 1035.7,421.2 1036.8,423.0 1037.9,424.4 1038.9,427.6 1040.0,429.8 1041.1,434.3 1042.2,433.7 1043.2,440.1 1044.3,440.0 1045.4,442.5 1046.5,442.6 1047.6,441.5 1048.6,442.8 1049.7,442.4 1050.8,440.7 1051.9,439.9 1052.9,440.6 1054.0,440.8 1055.1,438.7 1056.2,436.3 1057.3,435.9 1058.4,435.1 1059.5,430.8 1060.6,427.7 1061.7,425.8 1062.8,425.1 1063.9,427.0 1065.0,427.6 1066.1,429.8 1067.3,430.1 1068.4,428.0 1069.5,428.6 1070.6,430.9 1071.7,429.5 1072.8,428.9 1073.9,431.1 1075.1,431.5 1076.2,431.5 1077.3,428.1 1078.4,429.0 1079.5,428.8 1080.6,424.2 1081.7,422.8 1082.8,422.3 1083.9,417.3 1085.0,415.4 1086.1,415.4 1090.0,399.8 1094.8,382.0 1099.7,396.0 1103.6,411.5 1105.5,429.0 1106.6,430.0 1107.7,426.9 1108.8,426.6 1110.0,427.2 1111.1,427.1 1112.2,423.3 1113.3,425.1 1114.4,424.3 1115.5,424.8 1116.6,425.0 1117.7,423.7 1118.8,425.5 1119.9,427.3 1121.0,425.1 1126.9,444.5 1128.0,442.9 1129.1,442.5 1130.2,439.3 1131.3,439.0 1132.4,439.7 1133.5,436.0 1134.6,436.7 1135.8,439.3 1136.9,440.2 1138.1,437.1 1139.2,441.9 1140.4,440.6 1141.5,439.1 1142.5,440.1 1143.6,439.2 1144.7,436.1 1145.7,437.0 1146.8,436.0 1147.8,435.9 1148.9,432.4 1150.0,433.9 1151.0,434.0 1152.1,430.9 1153.3,433.3 1154.4,434.2 1155.6,433.7 1156.7,437.1 1157.9,438.7 1159.0,439.6 1160.1,443.1 1161.2,444.5 1162.4,445.6 1163.5,445.5 1164.6,449.3 1165.7,450.3 1166.8,451.1 1167.9,449.2 1168.9,452.8 1170.0,451.9 1171.1,449.5 1172.2,453.6 1173.2,450.1 1174.3,451.2 1175.4,452.2 1176.6,451.1 1177.7,448.4 1178.9,446.1 1180.0,444.4 1181.2,441.6 1182.3,441.9 1183.3,441.8 1184.4,441.6 1185.4,441.6 1186.5,445.3 1187.5,446.0 1188.6,445.5 1189.6,447.0 1190.7,445.7 1191.7,445.7 1192.8,447.4"/>
</g>
<rect x="155.9" y="15.2" width="1038.4" height="937.1" fill="none" stroke="#000" stroke-width="8.7"/>
<g stroke="#000" stroke-width="8.7">
<line x1="155.90" y1="952" x2="155.90" y2="976.6" />
<line x1="328.00" y1="952" x2="328.00" y2="976.6" />
<line x1="501.00" y1="952" x2="501.00" y2="976.6" />
<line x1="675.10" y1="952" x2="675.10" y2="976.6" />
<line x1="847.05" y1="952" x2="847.05" y2="976.6" />
<line x1="1022.00" y1="952" x2="1022.00" y2="976.6" />
<line x1="1194.30" y1="952" x2="1194.30" y2="976.6" />
<line x1="241.95" y1="952" x2="241.95" y2="963" />
<line x1="414.50" y1="952" x2="414.50" y2="963" />
<line x1="588.05" y1="952" x2="588.05" y2="963" />
<line x1="761.08" y1="952" x2="761.08" y2="963" />
<line x1="934.52" y1="952" x2="934.52" y2="963" />
<line x1="1108.15" y1="952" x2="1108.15" y2="963" />
</g>
<g font-size="58" stroke="#fff" stroke-width="0.7">
<text x="155.80" y="1036.4" text-anchor="middle">20</text>
<text x="329.00" y="1036.4" text-anchor="middle">30</text>
<text x="500.50" y="1036.4" text-anchor="middle">40</text>
<text x="674.80" y="1036.4" text-anchor="middle">50</text>
<text x="848.00" y="1036.4" text-anchor="middle">60</text>
<text x="1022.00" y="1036.4" text-anchor="middle">70</text>
<text x="1194.50" y="1036.4" text-anchor="middle">80</text>
</g>
<g transform="translate(493.3,1131.2) scale(0.963,1.034)"><text x="0" y="0" font-size="82" stroke="#fff" stroke-width="0.4">2Theta</text></g>
<g font-size="78" font-weight="normal"><text x="768.1" y="1129.5" style="font-weight:normal">(</text><text x="832" y="1129.5" style="font-weight:normal">)</text></g>
<circle cx="813.5" cy="1090" r="10.2" fill="none" stroke="#000" stroke-width="4.6"/>
<g transform="translate(84,761) rotate(-90) scale(0.948,1.02)"><text x="0" y="0" font-size="96">Intensity</text></g>
<g transform="translate(84,335) rotate(-90) scale(0.948,1.02)"><text x="0" y="0" font-size="96">a.u.</text></g>
<g transform="translate(82.5,364) rotate(-90)"><text x="0" y="0" font-size="89.5" style="font-weight:normal">(</text></g>
<g transform="translate(82.5,173.5) rotate(-90)"><text x="0" y="0" font-size="89.5" style="font-weight:normal">)</text></g>
<rect x="641" y="28" width="540.5" height="248" rx="4" fill="#fff" stroke="#000" stroke-width="6.5"/>
<g stroke-width="8.5" stroke-linecap="round">
<line x1="650" y1="66" x2="770" y2="66" stroke="#000"/>
<line x1="650" y1="145.5" x2="770" y2="145.5" stroke="#f00"/>
<line x1="650" y1="227.5" x2="770" y2="227.5" stroke="#00f"/>
</g>
<g font-size="54">
<text transform="translate(786.5,82.9) scale(1,1.04)" x="0" y="0">Cu<tspan font-size="37.5" dy="14.5">2</tspan><tspan dy="-14.5">O/GO</tspan></text>
<text transform="translate(786.5,164.3) scale(1,1.04)" x="0" y="0">Cu<tspan font-size="37.5" dy="14.5">1.7</tspan><tspan dy="-14.5">Ca</tspan><tspan font-size="37.5" dy="14.5">0.3</tspan><tspan dy="-14.5">O/GO</tspan></text>
<text transform="translate(786.5,243) scale(1,1.04)" x="0" y="0">Cu<tspan font-size="37.5" dy="14.5">1.4</tspan><tspan dy="-14.5">Ca</tspan><tspan font-size="37.5" dy="14.5">0.6</tspan><tspan dy="-14.5">O/GO</tspan></text>
</g>
</svg>
</body></html>
